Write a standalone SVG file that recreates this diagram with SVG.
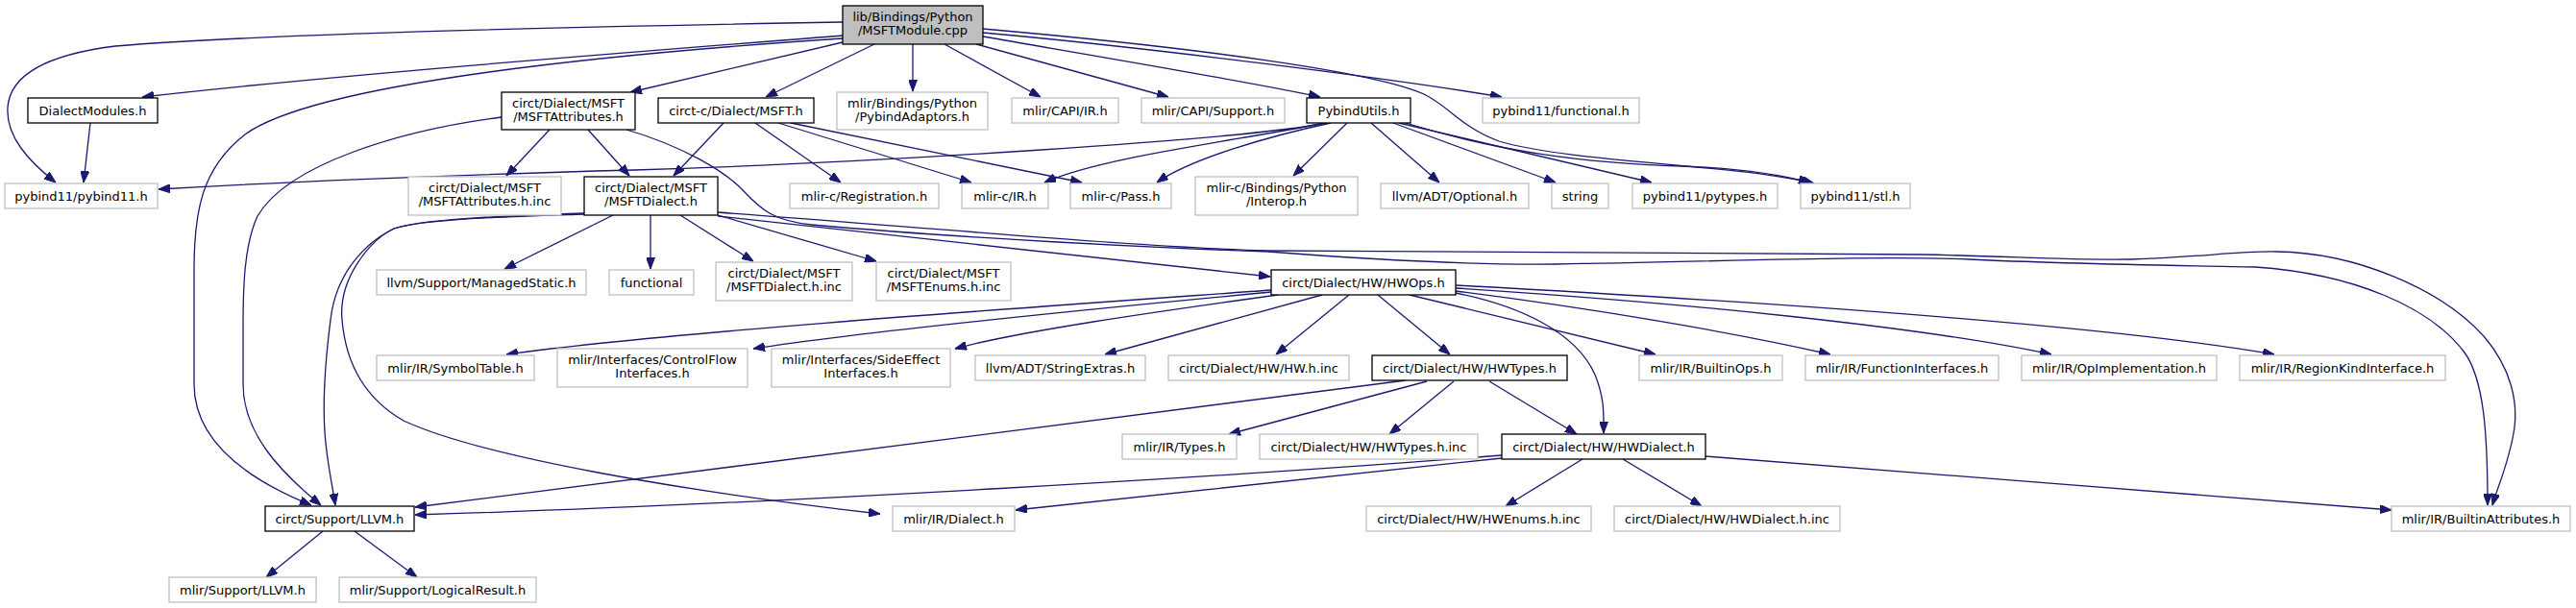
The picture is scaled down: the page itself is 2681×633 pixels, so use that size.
<svg xmlns="http://www.w3.org/2000/svg" width="2681" height="633" viewBox="0 0 2681 633">
<style>
.n rect{stroke-width:1.3}
.g rect{fill:#fff;stroke:#bfbfbf}
.b rect{fill:#fff;stroke:#000}
.r rect{fill:#bfbfbf;stroke:#000}
text{font-family:"DejaVu Sans",sans-serif;font-size:13px;text-anchor:middle;fill:#000}
#edges path{fill:none;stroke:#191970;stroke-width:1.3;marker-end:url(#arr)}
</style>
<defs>
<marker id="arr" markerWidth="12" markerHeight="9" refX="12" refY="4.5" orient="auto" markerUnits="userSpaceOnUse"><path d="M0,0 L12,4.5 L0,9 z" fill="#191970" stroke="#191970" stroke-width="1"/></marker>
</defs>
<rect width="2681" height="633" fill="#fff"/>
<g id="edges">
<path d="M877,23 C700,26 300,33 120,48 C40,58 10,82 8,112 C6,142 30,168 58,190"/>
<path d="M877,37 C650,55 350,78 148,101"/>
<path d="M877,40 C650,55 330,85 255,140 C210,175 202,220 202,280 L202,400 C202,460 260,500 324,526"/>
<path d="M877,44 L656,96"/>
<path d="M910,46 L797,101"/>
<path d="M950,46 L950,95"/>
<path d="M983,46 L1083,101"/>
<path d="M1016,46 L1216,101"/>
<path d="M1023,38 C1150,60 1300,85 1374,101"/>
<path d="M1023,34 C1200,50 1450,82 1563,101"/>
<path d="M1023,30 C1250,50 1430,75 1482,98 C1510,112 1520,132 1560,147 C1640,170 1800,170 1888,191"/>
<path d="M94,128 L87,190"/>
<path d="M522,122 C420,135 300,170 268,225 C254,255 253,300 253,340 L253,400 C253,450 290,490 334,526"/>
<path d="M572,135 L527,183"/>
<path d="M612,135 L655,183"/>
<path d="M652,135 C710,152 755,178 775,200 C792,218 805,230 845,234 C1000,248 1200,258 1320,262 C1450,272 1550,276 1620,275 C1800,272 1950,266 2050,270 C2150,275 2250,276 2347,278 C2450,285 2530,320 2565,367 C2585,395 2589,450 2589,526"/>
<path d="M753,128 L701,183"/>
<path d="M786,128 L875,190"/>
<path d="M810,128 L1011,190"/>
<path d="M823,128 L1126,190"/>
<path d="M1380,128 C1300,145 900,170 660,177 C400,184 250,192 165,197"/>
<path d="M1378,128 C1300,145 1150,162 1087,190"/>
<path d="M1385,128 C1320,142 1240,165 1204,190"/>
<path d="M1402,128 L1346,183"/>
<path d="M1427,128 L1498,190"/>
<path d="M1450,128 L1619,190"/>
<path d="M1456,128 L1719,190"/>
<path d="M1463,128 C1560,158 1650,170 1750,173 C1810,175 1850,181 1884,190"/>
<path d="M638,224 L525,280"/>
<path d="M677,224 L677,280"/>
<path d="M708,224 L784,272"/>
<path d="M747,224 L912,272"/>
<path d="M747,225 L1322,288"/>
<path d="M747,221 C1000,240 1200,258 1320,261 C1600,262 1900,264 2000,265 C2100,267 2150,271 2217,270 C2290,268 2330,261 2370,262 C2450,263 2540,300 2585,350 C2615,385 2620,420 2617,445 C2612,480 2600,505 2594,526"/>
<path d="M608,222 C520,225 440,228 410,238 C385,250 350,280 344,333 C338,380 336,420 338,450 C340,480 345,500 349,526"/>
<path d="M608,223 C520,226 440,228 410,238 C385,250 352,290 356,333 C360,380 380,415 420,438 C500,475 700,510 916,535"/>
<path d="M1323,302 C1100,318 700,345 527,369"/>
<path d="M1323,304 C1100,325 900,345 784,363"/>
<path d="M1330,307 C1200,325 1060,345 994,363"/>
<path d="M1376,307 L1150,369"/>
<path d="M1404,307 L1328,369"/>
<path d="M1434,307 L1509,369"/>
<path d="M1467,307 L1723,369"/>
<path d="M1515,303 C1650,320 1800,345 1905,369"/>
<path d="M1515,300 C1750,315 2000,340 2135,369"/>
<path d="M1515,297 C1850,315 2200,340 2367,369"/>
<path d="M1515,305 C1580,318 1640,345 1660,390 C1670,415 1669,430 1669,451"/>
<path d="M1463,396 C1300,420 800,480 432,528"/>
<path d="M1485,397 L1279,452"/>
<path d="M1513,397 L1446,452"/>
<path d="M1550,397 L1641,452"/>
<path d="M1563,474 C1300,495 800,525 432,536"/>
<path d="M1563,477 C1350,500 1200,515 1057,531"/>
<path d="M1647,478 L1567,527"/>
<path d="M1689,478 L1771,527"/>
<path d="M1775,475 L2489,531"/>
<path d="M336,553 L277,601"/>
<path d="M369,553 L434,601"/>
</g>
<g id="n1" class="n r"><rect x="877" y="6" width="146" height="40"/><text x="950" y="21.5">lib/Bindings/Python</text><text x="950" y="36">/MSFTModule.cpp</text></g>
<g id="n2" class="n b"><rect x="29" y="102" width="135" height="26"/><text x="96.5" y="119.5">DialectModules.h</text></g>
<g id="n3" class="n g"><rect x="5" y="191" width="159" height="26"/><text x="84.5" y="208.5">pybind11/pybind11.h</text></g>
<g id="n4" class="n b"><rect x="522" y="96" width="139" height="39"/><text x="591.5" y="111.5">circt/Dialect/MSFT</text><text x="591.5" y="126">/MSFTAttributes.h</text></g>
<g id="n5" class="n b"><rect x="685" y="102" width="162" height="26"/><text x="766" y="119.5">circt-c/Dialect/MSFT.h</text></g>
<g id="n6" class="n g"><rect x="871" y="96" width="157" height="39"/><text x="949.5" y="111.5">mlir/Bindings/Python</text><text x="949.5" y="126">/PybindAdaptors.h</text></g>
<g id="n7" class="n g"><rect x="1053" y="102" width="111" height="26"/><text x="1108.5" y="119.5">mlir/CAPI/IR.h</text></g>
<g id="n8" class="n g"><rect x="1188" y="102" width="149" height="26"/><text x="1262.5" y="119.5">mlir/CAPI/Support.h</text></g>
<g id="n9" class="n b"><rect x="1360" y="102" width="108" height="26"/><text x="1414" y="119.5">PybindUtils.h</text></g>
<g id="n10" class="n g"><rect x="1543" y="102" width="163" height="26"/><text x="1624.5" y="119.5">pybind11/functional.h</text></g>
<g id="n11" class="n g"><rect x="425" y="184" width="159" height="40"/><text x="504.5" y="199.5">circt/Dialect/MSFT</text><text x="504.5" y="214">/MSFTAttributes.h.inc</text></g>
<g id="n12" class="n b"><rect x="608" y="184" width="139" height="40"/><text x="677.5" y="199.5">circt/Dialect/MSFT</text><text x="677.5" y="214">/MSFTDialect.h</text></g>
<g id="n13" class="n g"><rect x="822" y="191" width="155" height="26"/><text x="899.5" y="208.5">mlir-c/Registration.h</text></g>
<g id="n14" class="n g"><rect x="1001" y="191" width="90" height="26"/><text x="1046" y="208.5">mlir-c/IR.h</text></g>
<g id="n15" class="n g"><rect x="1114" y="191" width="105" height="26"/><text x="1166.5" y="208.5">mlir-c/Pass.h</text></g>
<g id="n16" class="n g"><rect x="1244" y="184" width="169" height="40"/><text x="1328.5" y="199.5">mlir-c/Bindings/Python</text><text x="1328.5" y="214">/Interop.h</text></g>
<g id="n17" class="n g"><rect x="1437" y="191" width="154" height="26"/><text x="1514" y="208.5">llvm/ADT/Optional.h</text></g>
<g id="n18" class="n g"><rect x="1615" y="191" width="59" height="26"/><text x="1644.5" y="208.5">string</text></g>
<g id="n19" class="n g"><rect x="1699" y="191" width="151" height="26"/><text x="1774.5" y="208.5">pybind11/pytypes.h</text></g>
<g id="n20" class="n g"><rect x="1874" y="191" width="114" height="26"/><text x="1931" y="208.5">pybind11/stl.h</text></g>
<g id="n21" class="n g"><rect x="392" y="281" width="218" height="26"/><text x="501" y="298.5">llvm/Support/ManagedStatic.h</text></g>
<g id="n22" class="n g"><rect x="634" y="281" width="88" height="26"/><text x="678" y="298.5">functional</text></g>
<g id="n23" class="n g"><rect x="745" y="273" width="142" height="40"/><text x="816" y="288.5">circt/Dialect/MSFT</text><text x="816" y="303">/MSFTDialect.h.inc</text></g>
<g id="n24" class="n g"><rect x="912" y="273" width="140" height="40"/><text x="982" y="288.5">circt/Dialect/MSFT</text><text x="982" y="303">/MSFTEnums.h.inc</text></g>
<g id="n25" class="n b"><rect x="1323" y="281" width="192" height="26"/><text x="1419" y="298.5">circt/Dialect/HW/HWOps.h</text></g>
<g id="n26" class="n g"><rect x="392" y="370" width="164" height="26"/><text x="474" y="387.5">mlir/IR/SymbolTable.h</text></g>
<g id="n27" class="n g"><rect x="580" y="363" width="198" height="40"/><text x="679" y="378.5">mlir/Interfaces/ControlFlow</text><text x="679" y="393">Interfaces.h</text></g>
<g id="n28" class="n g"><rect x="803" y="363" width="186" height="40"/><text x="896" y="378.5">mlir/Interfaces/SideEffect</text><text x="896" y="393">Interfaces.h</text></g>
<g id="n29" class="n g"><rect x="1015" y="370" width="177" height="26"/><text x="1103.5" y="387.5">llvm/ADT/StringExtras.h</text></g>
<g id="n30" class="n g"><rect x="1216" y="370" width="188" height="26"/><text x="1310" y="387.5">circt/Dialect/HW/HW.h.inc</text></g>
<g id="n31" class="n b"><rect x="1428" y="370" width="203" height="26"/><text x="1529.5" y="387.5">circt/Dialect/HW/HWTypes.h</text></g>
<g id="n32" class="n g"><rect x="1706" y="370" width="149" height="26"/><text x="1780.5" y="387.5">mlir/IR/BuiltinOps.h</text></g>
<g id="n33" class="n g"><rect x="1879" y="370" width="201" height="26"/><text x="1979.5" y="387.5">mlir/IR/FunctionInterfaces.h</text></g>
<g id="n34" class="n g"><rect x="2104" y="370" width="203" height="26"/><text x="2205.5" y="387.5">mlir/IR/OpImplementation.h</text></g>
<g id="n35" class="n g"><rect x="2331" y="370" width="214" height="26"/><text x="2438" y="387.5">mlir/IR/RegionKindInterface.h</text></g>
<g id="n36" class="n g"><rect x="1168" y="452" width="119" height="26"/><text x="1227.5" y="469.5">mlir/IR/Types.h</text></g>
<g id="n37" class="n g"><rect x="1311" y="452" width="227" height="26"/><text x="1424.5" y="469.5">circt/Dialect/HW/HWTypes.h.inc</text></g>
<g id="n38" class="n b"><rect x="1563" y="452" width="212" height="26"/><text x="1669" y="469.5">circt/Dialect/HW/HWDialect.h</text></g>
<g id="n39" class="n b"><rect x="276" y="527" width="155" height="26"/><text x="353.5" y="544.5">circt/Support/LLVM.h</text></g>
<g id="n40" class="n g"><rect x="929" y="527" width="127" height="26"/><text x="992.5" y="544.5">mlir/IR/Dialect.h</text></g>
<g id="n41" class="n g"><rect x="1422" y="527" width="234" height="26"/><text x="1539" y="544.5">circt/Dialect/HW/HWEnums.h.inc</text></g>
<g id="n42" class="n g"><rect x="1680" y="527" width="235" height="26"/><text x="1797.5" y="544.5">circt/Dialect/HW/HWDialect.h.inc</text></g>
<g id="n43" class="n g"><rect x="2489" y="527" width="186" height="26"/><text x="2582" y="544.5">mlir/IR/BuiltinAttributes.h</text></g>
<g id="n44" class="n g"><rect x="176" y="601" width="153" height="26"/><text x="252.5" y="618.5">mlir/Support/LLVM.h</text></g>
<g id="n45" class="n g"><rect x="353" y="601" width="205" height="26"/><text x="455.5" y="618.5">mlir/Support/LogicalResult.h</text></g>
</svg>
